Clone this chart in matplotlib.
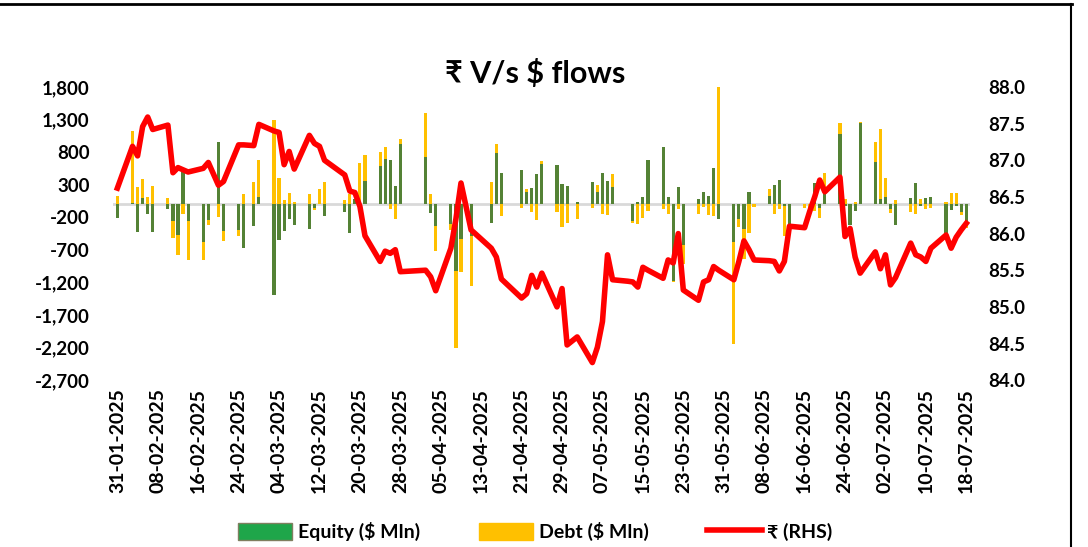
import numpy as np
import pandas as pd
import matplotlib
matplotlib.use('Agg')
import matplotlib.pyplot as plt
from matplotlib.patches import Patch
from matplotlib.lines import Line2D
from matplotlib.ticker import FuncFormatter, MultipleLocator

# trading dates with FPI flows and USD/INR
dates = [
    '31-01-2025', '03-02-2025', '04-02-2025', '05-02-2025', '06-02-2025', '07-02-2025',
    '10-02-2025', '11-02-2025', '12-02-2025', '13-02-2025', '14-02-2025',
    '17-02-2025', '18-02-2025', '20-02-2025', '21-02-2025',
    '24-02-2025', '25-02-2025', '27-02-2025', '28-02-2025',
    '03-03-2025', '04-03-2025', '05-03-2025', '06-03-2025', '07-03-2025',
    '10-03-2025', '11-03-2025', '12-03-2025', '13-03-2025',
    '17-03-2025', '18-03-2025', '19-03-2025', '20-03-2025', '21-03-2025',
    '24-03-2025', '25-03-2025', '26-03-2025', '27-03-2025', '28-03-2025',
    '02-04-2025', '03-04-2025', '04-04-2025',
    '07-04-2025', '08-04-2025', '09-04-2025', '11-04-2025',
    '15-04-2025', '16-04-2025', '17-04-2025',
    '21-04-2025', '22-04-2025', '23-04-2025', '24-04-2025', '25-04-2025',
    '28-04-2025', '29-04-2025', '30-04-2025', '02-05-2025',
    '05-05-2025', '06-05-2025', '07-05-2025', '08-05-2025', '09-05-2025',
    '12-05-2025', '13-05-2025', '14-05-2025', '15-05-2025', '16-05-2025',
    '19-05-2025', '20-05-2025', '21-05-2025', '22-05-2025', '23-05-2025',
    '26-05-2025', '27-05-2025', '28-05-2025', '29-05-2025', '30-05-2025',
    '02-06-2025', '03-06-2025', '04-06-2025', '05-06-2025', '06-06-2025',
    '09-06-2025', '10-06-2025', '11-06-2025', '12-06-2025', '13-06-2025',
    '16-06-2025', '17-06-2025', '18-06-2025', '19-06-2025', '20-06-2025',
    '23-06-2025', '24-06-2025', '25-06-2025', '26-06-2025', '27-06-2025',
    '30-06-2025', '01-07-2025', '02-07-2025', '03-07-2025', '04-07-2025',
    '07-07-2025', '08-07-2025', '09-07-2025', '10-07-2025', '11-07-2025',
    '14-07-2025', '15-07-2025', '16-07-2025', '17-07-2025', '18-07-2025',
]

equity = [
    -210, 20, -425, 97, -148, -425,
    -72, -261, -466, 507, -261,
    -579, -236, 952, -415,
    -389, -671, -338, 107,
    -1388, -543, -415, -225, -312,
    -379, -56, 0, -174,
    -123, -440, 80, 50, 358,
    594, 701, 676, 287, 932,
    727, -128, -333,
    -300, -1029, -538, -486,
    -282, 783, 476,
    522, 189, 246, 471, 614,
    599, 307, 282, 30,
    343, 194, 476, 358, 271,
    0, -256, 36, 118, 681,
    886, 118, -1178, 271, -620,
    77, 194, 128, 553, -220,
    -573, -230, -375, 194, 10,
    128, 292, 374, -20, -307,
    0, 10, 333, -51, 169,
    1075, -30, -317, -102, 1254,
    650, 87, 118, -66, -317,
    92, 333, -26, 92, 113,
    -435, -92, -26, -113, -307,
]

debt = [
    123, 1100, 266, 297, 107, 287,
    97, -256, -307, -148, -589,
    -271, -87, -200, -154,
    -92, 159, 343, 579,
    1300, 404, 72, 174, 31,
    159, -36, 236, 338,
    61, 154, 0, 585, 405,
    205, 180, -77, -230, 72,
    676, 154, -384,
    -100, -1178, -502, -768,
    343, 138, -179,
    -51, 41, -118, -246, 51,
    -112, -348, -292, -220,
    -51, 97, -154, -169, 200,
    0, -36, -307, -205, -102,
    -66, -154, -15, -77, -300,
    -154, -36, -164, -179, 1800,
    -1566, -113, -470, -435, -36,
    102, -154, -77, -470, 0,
    -51, -77, -100, -154, 317,
    169, 75, 0, 36, 10,
    312, 1065, 292, -61, 66,
    -118, -154, 87, -77, -51,
    36, 179, 179, -56, -51,
]

inr = [
    86.62, 87.19, 87.06, 87.46, 87.59, 87.42,
    87.48, 86.83, 86.90, 86.87, 86.84,
    86.89, 86.97, 86.66, 86.71,
    87.21, 87.21, 87.20, 87.49,
    87.40, 87.38, 86.94, 87.12, 86.88,
    87.34, 87.23, 87.19, 87.00,
    86.80, 86.58, 86.56, 86.37, 85.97,
    85.62, 85.76, 85.73, 85.78, 85.48,
    85.50, 85.41, 85.22,
    85.80, 86.20, 86.69, 86.05,
    85.80, 85.68, 85.38,
    85.12, 85.18, 85.43, 85.27, 85.46,
    85.00, 85.25, 84.48, 84.59,
    84.24, 84.45, 84.80, 85.71, 85.37,
    85.35, 85.34, 85.27, 85.54, 85.50,
    85.39, 85.64, 85.60, 86.00, 85.23,
    85.09, 85.34, 85.37, 85.55, 85.50,
    85.37, 85.62, 85.90, 85.78, 85.64,
    85.63, 85.62, 85.49, 85.62, 86.10,
    86.08, 86.30, 86.50, 86.73, 86.57,
    86.77, 85.96, 86.07, 85.68, 85.46,
    85.75, 85.52, 85.71, 85.30, 85.40,
    85.87, 85.71, 85.68, 85.62, 85.80,
    85.98, 85.80, 85.95, 86.05, 86.14,
]

GREEN = '#548235'
GOLD = '#FFC000'
RED = '#FF0000'
FONT = ['Lato', 'DejaVu Sans']

plt.rcParams['font.family'] = FONT
plt.rcParams['font.weight'] = 'bold'

x = pd.to_datetime(dates, format='%d-%m-%Y')
eq = np.array(equity, dtype=float)
dt = np.array(debt, dtype=float)
debt_bottom = np.where(dt >= 0, np.maximum(eq, 0), np.minimum(eq, 0))

fig = plt.figure(figsize=(10.88, 5.47), dpi=100)
ax = fig.add_axes([0.104, 0.305, 0.788, 0.536])

bw = pd.Timedelta(hours=15)
ax.axhline(0, color='#D9D9D9', lw=2, zorder=1)
ax.bar(x, eq, width=bw, color=GREEN, zorder=2)
ax.bar(x, dt, width=bw, bottom=debt_bottom, color=GOLD, zorder=2)

start = pd.Timestamp('2025-01-31')
end = pd.Timestamp('2025-07-18')
ax.set_xlim(start - pd.Timedelta(hours=20), end + pd.Timedelta(hours=20))
ax.set_ylim(-2700, 1800)
ax.set_yticks(np.arange(-2700, 1801, 500))
ax.yaxis.set_major_formatter(FuncFormatter(lambda v, p: f'{int(v):,}'))

ticks = pd.date_range(start, end, freq='8D')
ax.set_xticks(ticks)
ax.set_xticklabels([t.strftime('%d-%m-%Y') for t in ticks], rotation=90,
                   fontsize=14, fontweight='bold')
for lab in ax.get_yticklabels():
    lab.set_fontsize(13.5)
    lab.set_fontweight('bold')
ax.tick_params(axis='y', length=0, pad=17)
ax.tick_params(axis='x', length=0, pad=6)
for s in ax.spines.values():
    s.set_visible(False)

ax2 = ax.twinx()
ax2.plot(x, inr, color=RED, lw=4, solid_joinstyle='round', zorder=3)
ax2.set_ylim(84.0, 88.0)
ax2.yaxis.set_major_locator(MultipleLocator(0.5))
ax2.yaxis.set_major_formatter(FuncFormatter(lambda v, p: f'{v:.1f}'))
for lab in ax2.get_yticklabels():
    lab.set_fontsize(13.5)
    lab.set_fontweight('bold')
ax2.tick_params(length=0, pad=13)
for s in ax2.spines.values():
    s.set_visible(False)

fig.text(0.492, 0.865, '₹ V/s $ flows', ha='center', va='center',
         fontsize=22, fontweight='bold', family=FONT)

handles = [
    Patch(facecolor='#1FA64A', edgecolor='#7F7F5F', label='Equity ($ Mln)'),
    Patch(facecolor=GOLD, edgecolor=GOLD, label='Debt ($ Mln)'),
    Line2D([0], [0], color=RED, lw=4, label='₹ (RHS)'),
]
fig.legend(handles=handles, loc='center', bbox_to_anchor=(0.492, 0.028), ncol=3,
           frameon=False, prop={'family': FONT, 'size': 14, 'weight': 'bold'},
           handlelength=2.8, handleheight=1.0, columnspacing=3.0, handletextpad=0.3)

# frame of the source document
fig.add_artist(Line2D([0, 0.985], [0.993, 0.993], color='black', lw=2))
fig.add_artist(Line2D([0.984, 0.984], [0.0, 0.993], color='black', lw=1.5))

fig.savefig('out.png', dpi=100)
